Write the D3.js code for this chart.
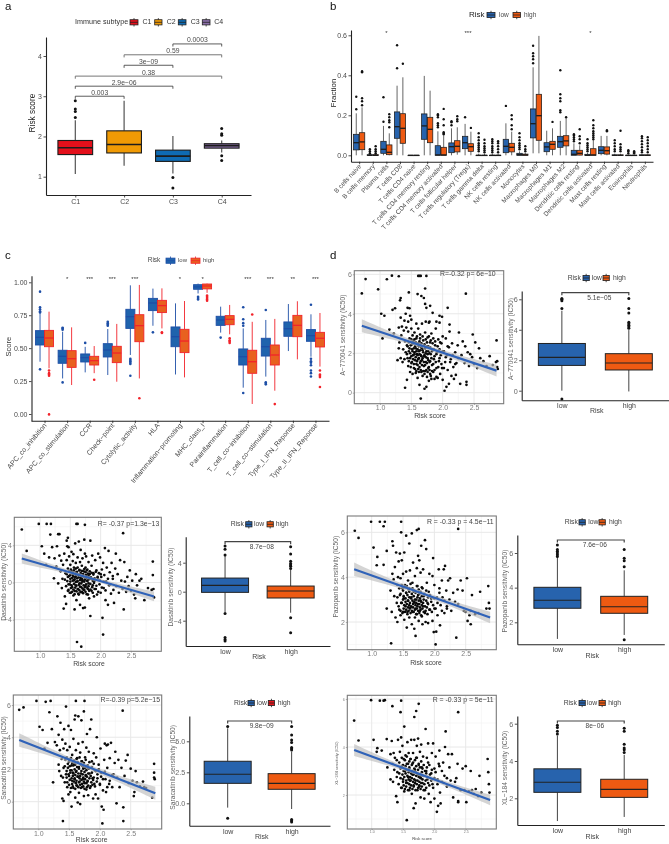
<!DOCTYPE html>
<html><head><meta charset="utf-8">
<script src="https://cdn.jsdelivr.net/npm/d3@7/dist/d3.min.js"></script>
<style>
html,body{margin:0;padding:0;background:#fff}
svg{display:block;filter:blur(0.35px)}
text{font-family:"Liberation Sans",Arial,sans-serif}
</style></head><body><svg id="fig" width="669" height="844"></svg>
<script>
// ---------- panel a ----------
const aCats=["C1","C2","C3","C4"];
const aBoxes=[[1.07,1.55,1.72,1.9,2.4,[2.47,2.62,2.68,2.89]],[1.27,1.59,1.8,2.14,2.89,[]],[1.08,1.38,1.51,1.66,2.01,[.98,.72]],[1.6,1.71,1.77,1.82,1.9,[2.2,2.07,2.03,1.52,1.4]]];
const aBrackets=[["C3","C4",4.3,"0.0003",0],["C2","C4",4.03,"0.59",1],["C2","C3",3.77,"3e−09",0],["C1","C4",3.5,"0.38",1],["C1","C3",3.25,"2.9e−06",0],["C1","C2",3.0,"0.003",0]];
// ---------- panel b ----------
const bCats=["B cells naive","B cells memory","Plasma cells","T cells CD8","T cells CD4 naive","T cells CD4 memory resting","T cells CD4 memory activated","T cells follicular helper","T cells regulatory (Tregs)","T cells gamma delta","NK cells resting","NK cells activated","Monocytes","Macrophages M0","Macrophages M1","Macrophages M2","Dendritic cells resting","Dendritic cells activated","Mast cells resting","Mast cells activated","Eosinophils","Neutrophils"];
const bLow=[[0,.027,.063,.105,.21,[.23,.293]],[0,0,0,.003,.007,[.01,.02,.03]],[0,.01,.03,.07,.147,[.168,.29]],[0,.085,.143,.217,.348,[.435,.55]],[0,0,0,0,0,[]],[0,.08,.147,.207,.397,[]],[0,0,.002,.048,.12,[.14,.15,.16,.19,.2,.205]],[0,.013,.043,.062,.135,[.15,.165,.17]],[0,.033,.063,.095,.157,[.19]],[0,0,0,0,.008,[.02,.03,.04,.05,.06,.075,.09,.11]],[0,0,0,0,.008,[.015,.025,.035,.045,.06,.07,.08]],[0,.013,.045,.08,.16,[.247]],[0,0,.003,.01,.02,[.03,.04,.05,.06,.075,.09,.11]],[.01,.087,.158,.232,.44,[.46,.48,.495,.51,.548]],[0,.018,.042,.063,.123,[]],[0,.04,.068,.095,.172,[.215,.225,.27,.285,.305,.425]],[0,0,.005,.025,.06,[.07,.08,.09,.1,.105]],[0,0,0,.005,.012,[.02,.03,.04,.05,.06,.08]],[0,.008,.025,.043,.097,[]],[0,0,0,.002,.008,[.02,.03,.045,.06,.075]],[0,0,0,0,.004,[.01,.02,.025]],[0,0,0,.002,.006,[.015,.025,.04,.055,.07,.085,.095]]];
const bHigh=[[0,.028,.067,.113,.24,[.25,.27,.285,.415,.42]],[0,0,0,.003,.007,[.01,.02,.03,.045]],[0,.003,.015,.052,.11,[.14,.165,.175,.19,.205]],[0,.06,.135,.208,.39,[.458]],[0,0,0,0,0,[]],[0,.063,.13,.19,.323,[]],[0,0,.002,.04,.1,[.105,.11,.115,.15,.18,.232]],[.003,.017,.045,.073,.14,[.17,.18,.195]],[0,.02,.043,.058,.118,[.137]],[0,0,0,0,.008,[.015,.025,.035,.045,.06,.078]],[0,0,0,0,.008,[.015,.03,.045,.06,.07]],[0,.017,.04,.06,.118,[.13,.15,.18,.2]],[0,0,.002,.006,.012,[.02,.03,.045]],[.01,.075,.198,.305,.597,[]],[0,.03,.055,.07,.135,[.167]],[0,.047,.072,.098,.185,[.19]],[0,.001,.01,.025,.05,[.06,.08,.095,.13]],[0,0,.002,.033,.075,[.08,.09,.1,.11,.12,.135,.15,.175]],[0,.006,.023,.042,.097,[.12,.125]],[0,0,0,.002,.008,[.02,.03,.04,.055,.123]],[0,0,0,0,.003,[.01,.015,.02]],[0,0,0,.002,.006,[.015,.03,.045,.06,.075,.09]]];
const bStars=[[2,"*"],[8,"***"],[17,"*"]];
// ---------- panel c ----------
const cCats=["APC_co_inhibition","APC_co_stimulation","CCR","Check−point","Cytolytic_activity","HLA","Inflammation−promoting","MHC_class_I","Parainflammation","T_cell_co−inhibition","T_cell_co−stimulation","Type_I_IFN_Reponse","Type_II_IFN_Reponse"];
const cLow=[[.397,.524,.582,.633,.76,[.339,.929,.77,.78,.795,.81]],[.27,.385,.438,.484,.625,[.24,.64,.65,.655]],[.316,.395,.428,.456,.51,[.54]],[.296,.433,.486,.534,.645,[.67,.68,.69,.7]],[.448,.65,.739,.795,.977,[.29,.38,.39,.4,.41,.42]],[.67,.785,.843,.878,.952,[.62]],[.3,.511,.587,.661,.84,[]],[.915,.947,.965,.982,.99,[.87,.88,.89]],[.618,.673,.714,.742,.815,[.58]],[.2,.372,.435,.494,.65,[.16,.67,.69,.72,.81]],[.284,.44,.511,.575,.714,[.225,.235,.24,.79]],[.478,.59,.648,.699,.835,[]],[.435,.552,.595,.641,.757,[.285,.31,.33,.37,.39,.4,.42,.83]]];
const cHigh=[[.347,.511,.577,.635,.777,[.29,.3,.31,.33,-.003]],[.22,.354,.42,.481,.658,[]],[.31,.372,.405,.438,.516,[.26]],[.245,.39,.463,.514,.684,[]],[.27,.549,.671,.754,.98,[.12]],[.65,.77,.823,.863,.954,[.615,.62]],[.278,.466,.554,.643,.858,[]],[.92,.95,.972,.987,.99,[.86,.87,.88,.89,.9]],[.605,.678,.719,.747,.828,[.54,.55,.56,.575]],[.076,.309,.397,.484,.7,[.755]],[.177,.372,.448,.524,.722,[.075]],[.415,.587,.673,.749,.856,[]],[.36,.509,.575,.62,.767,[.205,.28,.29,.3,.33]]];
const cStars=[[1,"*"],[2,"***"],[3,"***"],[4,"***"],[6,"*"],[7,"*"],[9,"***"],[10,"***"],[11,"**"],[12,"***"]];
// ---------- drug panels: box values [lower, q1, median, q3, upper, outliers] ----------
const riskCats=["low","high"];
const a770Box=[[0,1.66,2.19,3.1,5.25,[5.4,5.9,6,6.05,-.55]],[-.05,1.36,1.82,2.43,3.98,[4.1,4.2,4.3,4.4,4.5,5.1,5.4,6.05]]];
const dasaBox=[[-2.8,-.09,.87,1.88,5,[5.06,5.84,6.3,-3,-6.3,-6.6,-6.8]],[-2.9,-.87,.09,.78,3,[3.2,3.5,3.7,3.9,4.2,5.2,6.2,-3.6,-5.65]]];
const pazoBox=[[1.04,2.81,3.27,4.02,5.75,[5.8,5.9,6,6.1,6.2,6.46]],[1.27,2.52,2.9,3.5,5,[1,5.2,5.55,5.7,6.2]]];
const saraBox=[[-.35,1.61,2.34,3.39,6.05,[6.2,-1.2]],[-.46,1.13,1.61,2.39,4.17,[4.3,4.4,4.5,4.9,5.1,5.5,6.2,-1.3,-1.4,-1.5]]];
const xlBox=[[.78,2.32,2.86,3.58,5.36,[5.45,5.6,5.8,5.92]],[1,2.05,2.48,3.02,4.33,[4.45,4.6,4.7,4.9,5.6,5.75]]];
// ---------- scatter points [risk score, sensitivity] ----------
const a770Pts=[[.71,5.03],[.77,5.76],[.97,5.24],[1.11,5.75],[1.19,5.93],[1.3,5.9],[1.61,5.92],[1.63,5.92],[1.65,5.92],[1.74,5.92],[1.72,5.28],[1.46,5.08],[1.6,5],[1.66,4.9],[1.7,4.8],[2.37,5.02],[1.32,4.68],[1.33,4.8],[1.2,4.2],[1.24,4.28],[1.02,4],[1.07,3.9],[1.8,4.4],[1.72,4.5],[1.74,4.3],[1.44,4.3],[1.47,4.28],[1.95,3.9],[2.08,4.3],[1.84,4.05],[1.99,3.85],[1.33,3.8],[1.41,4],[1.48,3.9],[1.39,3.65],[1.45,3.6],[1.5,3.7],[1.58,3.5],[1.73,3.6],[1.79,3.6],[1.9,3.6],[1.95,3.55],[2.11,3.45],[1.15,3.2],[1.22,3],[1.04,2.75],[1.3,3.3],[1.28,1.65],[1.3,2.25],[1.31,2.55],[1.33,1.75],[1.34,2.9],[1.35,3.35],[1.36,1.55],[1.37,2.2],[1.38,3.15],[1.39,1.7],[1.4,2.6],[1.4,.25],[1.42,3.3],[1.43,.65],[1.43,1.95],[1.44,2.35],[1.45,1.35],[1.45,3.1],[1.46,2.1],[1.47,2.75],[1.48,1.05],[1.48,1.75],[1.49,2.4],[1.5,3.25],[1.5,1.5],[1.51,2.2],[1.52,.95],[1.52,2.9],[1.53,1.9],[1.54,2.5],[1.54,1.25],[1.55,3.05],[1.55,2.05],[1.56,1.65],[1.57,2.25],[1.57,1.0],[1.58,2.75],[1.58,1.45],[1.59,1.95],[1.6,2.45],[1.6,.75],[1.61,1.2],[1.61,3.25],[1.62,2.1],[1.62,1.75],[1.63,.4],[1.63,2.6],[1.64,1.5],[1.64,2.95],[1.65,1.9],[1.65,-.3],[1.66,2.3],[1.66,1.05],[1.67,1.65],[1.67,3.5],[1.68,2.15],[1.68,.85],[1.69,2.65],[1.7,1.35],[1.7,1.85],[1.71,.2],[1.71,2.45],[1.72,1.1],[1.72,3.05],[1.73,2.0],[1.73,1.55],[1.74,.3],[1.75,2.35],[1.75,.8],[1.76,1.75],[1.76,2.8],[1.77,1.25],[1.77,2.1],[1.78,.6],[1.78,3.55],[1.79,1.55],[1.8,2.55],[1.8,.95],[1.81,1.95],[1.82,3.0],[1.82,.7],[1.83,1.4],[1.84,2.2],[1.85,2.75],[1.85,1.05],[1.86,1.7],[1.87,.7],[1.88,2.4],[1.89,3.25],[1.9,1.25],[1.91,2.05],[1.92,.75],[1.93,2.7],[1.94,1.6],[1.95,2.2],[1.96,.95],[1.97,1.9],[1.98,2.5],[1.99,1.25],[2.0,2.85],[2.0,.65],[2.02,2.1],[2.03,.1],[2.04,1.55],[2.05,2.75],[2.06,.3],[2.07,1.9],[2.08,1.15],[2.1,.45],[2.1,2.3],[2.11,3.1],[2.13,1.7],[2.14,.85],[2.15,2.5],[2.17,1.3],[2.18,.7],[2.2,2.05],[2.21,.9],[2.22,1.5],[2.24,2.4],[2.25,1.75],[2.26,3.05],[2.28,.45],[2.3,1.9],[2.32,2.6],[2.35,1.5],[2.36,2.35],[2.38,.4],[2.38,.55],[2.4,2.05],[2.42,1.35],[2.44,1.95],[2.47,1.8],[2.48,2.95],[2.5,1.45],[2.52,2.55],[2.55,1.25],[2.58,2.25],[2.6,1.75],[2.65,1.6],[2.7,1.35],[2.75,1.85],[2.8,1.4],[2.85,1.55],[2.87,1.3],[2.87,1.6],[2.86,2.65],[2.88,1.2]];
const dasaPts=[[.7,5.7],[.78,3.4],[.98,6.3],[1.03,3.9],[1.07,3.1],[1.1,1.9],[1.11,6.3],[1.15,2.7],[1.18,6.3],[1.17,5.15],[1.2,3.8],[1.23,.45],[1.24,2.6],[1.28,3.9],[1.3,5.2],[1.32,5.2],[1.27,1.7],[1.3,-.1],[1.32,2.9],[1.34,1.2],[1.35,2.35],[1.36,-.6],[1.37,.4],[1.38,1.9],[1.39,-2.8],[1.4,3.1],[1.41,-1.5],[1.42,1],[1.43,-2.3],[1.44,4.5],[1.44,2.4],[1.45,3.9],[1.45,.15],[1.46,4.8],[1.46,1.5],[1.47,-.8],[1.47,3.8],[1.48,.7],[1.48,2.8],[1.49,-.2],[1.5,1.9],[1.5,.4],[1.51,-1.1],[1.52,1.2],[1.52,3.3],[1.53,-.5],[1.54,.8],[1.54,2.3],[1.55,-1.4],[1.55,3.05],[1.56,.25],[1.56,1.6],[1.57,-2.9],[1.57,-.9],[1.58,4.2],[1.58,.6],[1.59,2.1],[1.59,-.3],[1.6,1.1],[1.6,6.3],[1.62,6.3],[1.61,-6.4],[1.6,-1.9],[1.61,.1],[1.62,1.6],[1.62,2.7],[1.63,-.7],[1.63,.8],[1.64,4.4],[1.64,-1.3],[1.65,1.3],[1.65,-.1],[1.66,2.2],[1.66,-2.4],[1.67,.5],[1.67,3.5],[1.68,-6.9],[1.68,-.5],[1.69,1.8],[1.69,-1],[1.7,.25],[1.7,2.6],[1.71,-2.75],[1.72,-.8],[1.72,1.2],[1.73,4.6],[1.73,.1],[1.74,6.2],[1.74,3.1],[1.74,-2.7],[1.75,-.4],[1.75,1.6],[1.76,.7],[1.76,2.8],[1.77,-1.25],[1.78,.2],[1.78,1.4],[1.79,-.7],[1.8,2.2],[1.8,-.1],[1.81,-1.7],[1.82,.9],[1.83,-3.6],[1.83,4.5],[1.84,.4],[1.85,1.8],[1.85,-.9],[1.86,2.9],[1.87,-.3],[1.88,1],[1.89,-1.5],[1.9,.2],[1.91,2.4],[1.92,-.7],[1.93,1.3],[1.94,-1.3],[1.95,.5],[1.96,3.1],[1.97,1],[1.98,-.2],[1.99,2.7],[2,-1.1],[2.01,.6],[2.02,1.4],[2.03,-3.8],[2.04,-5.6],[2.04,2.1],[2.05,-.6],[2.06,.8],[2.07,3.7],[2.08,-1.9],[2.09,.1],[2.1,1.6],[2.12,-2.4],[2.13,3.4],[2.14,-.3],[2.15,1.1],[2.17,-1.2],[2.18,2.1],[2.2,.4],[2.21,-.8],[2.22,-2.2],[2.24,1.5],[2.25,3.1],[2.26,-.4],[2.28,.9],[2.3,-1.1],[2.32,2.4],[2.34,.2],[2.36,-.7],[2.37,5.3],[2.38,-2.9],[2.39,2.2],[2.4,.1],[2.42,-1],[2.44,.6],[2.46,-.4],[2.48,1.3],[2.5,-.9],[2.52,.2],[2.55,-1.3],[2.57,-1.7],[2.58,.9],[2.6,-.3],[2.64,.2],[2.67,.4],[2.72,-1.9],[2.78,-.6],[2.84,-.8],[2.86,.8],[2.86,2.25],[2.87,-.7],[2.88,-1.6]];
const pazoPts=[[.73,6.07],[.79,5.75],[.99,6.47],[1.03,5.32],[1.09,4.9],[1.08,4.53],[1.13,6.47],[1.19,4.55],[1.19,6.27],[1.21,6.47],[1.24,5.17],[1.24,2.6],[1.31,1.05],[1.33,5.6],[1.33,4.15],[1.34,5.4],[1.3,3.4],[1.32,2.45],[1.35,3.9],[1.36,3.15],[1.37,4.45],[1.38,2.2],[1.39,5.1],[1.4,2.85],[1.41,3.65],[1.41,2],[1.42,4],[1.43,4.7],[1.44,2.55],[1.45,3.2],[1.45,5.05],[1.46,3.95],[1.46,2.3],[1.47,6.47],[1.47,6],[1.48,4.75],[1.48,2.85],[1.49,3.5],[1.5,4.15],[1.5,2.45],[1.51,3.05],[1.52,5.1],[1.52,2.1],[1.53,3.65],[1.54,2.7],[1.55,5.85],[1.55,4.25],[1.55,3.3],[1.56,1.75],[1.57,2.45],[1.58,3.85],[1.58,2.95],[1.6,5.5],[1.6,2.2],[1.6,3.5],[1.61,4.3],[1.62,2.65],[1.63,3.1],[1.64,1.9],[1.64,5.95],[1.65,3.75],[1.65,2.45],[1.66,4.65],[1.67,2.85],[1.67,3.35],[1.68,1.7],[1.69,2.2],[1.69,4.05],[1.7,2.6],[1.7,1.38],[1.71,3],[1.72,6.1],[1.72,4.4],[1.72,2.35],[1.73,3.6],[1.74,4.95],[1.74,2.8],[1.75,6.15],[1.75,2.05],[1.76,3.25],[1.76,4.75],[1.77,2.5],[1.78,4.2],[1.78,2.95],[1.79,5.4],[1.8,2.25],[1.8,3.55],[1.81,1.9],[1.82,4.35],[1.82,2.7],[1.83,3.15],[1.85,5.65],[1.85,2.4],[1.86,2],[1.87,5.25],[1.88,3.75],[1.89,2.85],[1.9,1.95],[1.91,3.35],[1.92,4.15],[1.93,2.55],[1.95,3.05],[1.97,2.05],[1.97,4.05],[1.98,4.85],[1.99,1.55],[2,3.65],[2,2.6],[2.02,1],[2.03,1.57],[2.04,3.1],[2.05,2.3],[2.07,4.35],[2.08,3.5],[2.09,1.85],[2.1,2.75],[2.12,3.85],[2.13,3.1],[2.15,4.35],[2.16,2.4],[2.17,4.5],[2.19,3.4],[2.2,2.6],[2.22,3.85],[2.24,3],[2.25,3.95],[2.27,2.5],[2.3,3.3],[2.33,2.9],[2.35,1.3],[2.37,3.45],[2.38,6.15],[2.38,2.8],[2.42,3.85],[2.45,3.4],[2.47,2.5],[2.5,2.45],[2.52,3.95],[2.53,2.05],[2.56,2.3],[2.58,1.9],[2.58,2.5],[2.6,3.2],[2.65,2.35],[2.7,2.4],[2.73,3.35],[2.83,2.6],[2.86,3.6],[2.87,2.85],[2.88,2.6]];
const saraPts=[[.69,5.7],[.76,5.85],[.97,6.25],[1.02,4.65],[1.07,4.45],[1.1,3.3],[1.12,6.2],[1.15,3.65],[1.2,6.25],[1.18,5.55],[1.22,4.5],[1.24,1.2],[1.27,3.7],[1.3,3.5],[1.31,5.3],[1.33,2.3],[1.33,4.15],[1.34,1.9],[1.35,3.2],[1.36,4.9],[1.37,1.6],[1.38,2.65],[1.39,.2],[1.39,3.85],[1.4,-1.2],[1.4,1.5],[1.41,3.3],[1.41,.05],[1.42,4.5],[1.43,2.2],[1.44,3.6],[1.45,5.9],[1.45,1.7],[1.46,2.75],[1.47,1.2],[1.47,3.2],[1.48,2.1],[1.49,4.7],[1.49,.45],[1.5,1.6],[1.5,2.6],[1.51,3.4],[1.52,.6],[1.52,1.95],[1.53,4.45],[1.54,2.25],[1.54,-.3],[1.55,1.3],[1.55,2.9],[1.56,1.8],[1.57,3.9],[1.57,.85],[1.58,2.35],[1.59,5.1],[1.59,1.45],[1.6,5.35],[1.6,.25],[1.61,6.25],[1.61,3.2],[1.62,1.9],[1.62,1],[1.63,2.7],[1.64,-.05],[1.64,1.55],[1.65,3.6],[1.65,5.3],[1.66,2.15],[1.66,.55],[1.67,1.25],[1.68,3.05],[1.68,-.15],[1.69,1.75],[1.7,5.05],[1.7,2.5],[1.71,.9],[1.72,1.4],[1.72,3.7],[1.73,2.05],[1.74,5.6],[1.74,.35],[1.75,6.25],[1.75,1.15],[1.76,2.75],[1.77,1.6],[1.78,3.35],[1.78,.75],[1.79,4.2],[1.8,2.1],[1.8,1.25],[1.81,.4],[1.82,3.1],[1.83,1.75],[1.84,4.5],[1.85,.95],[1.86,5.1],[1.87,2.5],[1.88,1.45],[1.89,.2],[1.9,3],[1.91,1.1],[1.92,1.95],[1.93,.45],[1.94,2.75],[1.95,4],[1.96,1.45],[1.97,.2],[1.98,2.3],[2,1.05],[2.01,3.3],[2.02,1.8],[2.03,-.3],[2.04,-1.35],[2.05,.7],[2.06,-.5],[2.07,2.6],[2.08,3.6],[2.09,1.4],[2.1,.6],[2.11,3.5],[2.12,2.1],[2.13,3.55],[2.15,1.1],[2.16,2.7],[2.18,3.65],[2.2,.9],[2.22,1.7],[2.24,2.4],[2.25,3.1],[2.27,-.1],[2.28,1.5],[2.3,2.6],[2.32,.9],[2.35,2.1],[2.37,5.65],[2.38,-1.2],[2.38,-.35],[2.4,1.6],[2.42,2.55],[2.45,2.9],[2.47,1.15],[2.5,2.05],[2.53,1.3],[2.55,.35],[2.56,.6],[2.58,1.9],[2.6,1.2],[2.65,.95],[2.7,1.25],[2.72,.9],[2.75,.85],[2.85,.25],[2.88,2.35],[2.88,1.8],[2.88,1.5],[2.89,1.4]];
const xlPts=[[.72,5.1],[.79,4.27],[.99,5.95],[1.03,4.3],[1.09,3.95],[1.13,5.93],[1.08,3.8],[1.16,3.85],[1.19,5.93],[1.21,5.95],[1.24,4.33],[1.33,5.7],[1.32,4.25],[1.25,3.15],[1.3,3.7],[1.3,2.65],[1.33,3.3],[1.34,2.55],[1.35,3.75],[1.36,3.05],[1.37,3.55],[1.39,1.95],[1.4,2.75],[1.4,3.45],[1.41,1.7],[1.42,4.3],[1.44,2.9],[1.45,3.8],[1.46,5.45],[1.47,5.93],[1.47,4.4],[1.48,2.3],[1.48,3.2],[1.49,4.05],[1.5,2.65],[1.51,3.5],[1.52,4.85],[1.52,2.15],[1.53,3],[1.54,3.65],[1.55,2.5],[1.56,.95],[1.56,3.3],[1.57,4.2],[1.58,2.75],[1.59,3.75],[1.6,2.2],[1.6,3.1],[1.61,2.6],[1.62,3.5],[1.63,4.3],[1.64,2.05],[1.65,2.85],[1.65,3.3],[1.66,3.75],[1.67,1.45],[1.67,2.4],[1.68,5.25],[1.68,4.3],[1.69,3.05],[1.7,1.65],[1.7,2.6],[1.71,5.5],[1.71,3.55],[1.72,4.05],[1.73,2.2],[1.74,4.35],[1.74,2.85],[1.75,5.8],[1.75,3.25],[1.76,2.35],[1.77,3.8],[1.78,1.9],[1.78,2.75],[1.79,4.1],[1.8,3.15],[1.81,2.5],[1.82,3.6],[1.84,1.85],[1.85,2.2],[1.86,4.75],[1.87,3],[1.88,3.55],[1.89,2.65],[1.9,4.15],[1.91,2.05],[1.92,3.25],[1.94,1.7],[1.95,2.9],[1.96,3.75],[1.97,2.45],[1.98,4.15],[2,1.85],[2,3.1],[2.02,3.6],[2.04,1.3],[2.05,2.65],[2.06,1.55],[2.07,3.3],[2.08,3.85],[2.09,2.1],[2.1,1.65],[2.12,3],[2.14,3.35],[2.15,2.5],[2.17,4],[2.18,4.65],[2.2,2.7],[2.22,3.7],[2.24,3.15],[2.26,2.6],[2.28,3.7],[2.3,1.9],[2.33,2.55],[2.35,2.7],[2.37,3.3],[2.38,1.75],[2.38,1.7],[2.38,5.45],[2.42,2.2],[2.45,3.1],[2.48,2.2],[2.5,3.2],[2.51,1.7],[2.55,2.15],[2.58,3],[2.6,2.2],[2.63,2.05],[2.66,2.25],[2.7,1.95],[2.72,2.8],[2.75,2.1],[2.85,3.5],[2.86,2.95],[2.87,2.45],[2.88,2.1]];
// dense core of each cloud: shared risk scores, one sensitivity list per drug
const denseRisk=[1.41,1.43,1.44,1.46,1.46,1.47,1.48,1.49,1.5,1.5,1.51,1.51,1.52,1.53,1.53,1.54,1.54,1.55,1.55,1.56,1.56,1.57,1.57,1.58,1.58,1.59,1.59,1.6,1.6,1.6,1.61,1.61,1.62,1.62,1.63,1.63,1.64,1.64,1.65,1.65,1.66,1.66,1.67,1.67,1.68,1.68,1.69,1.69,1.7,1.7,1.71,1.71,1.72,1.72,1.73,1.73,1.74,1.74,1.75,1.75,1.76,1.76,1.77,1.77,1.78,1.78,1.79,1.79,1.8,1.8,1.81,1.81,1.82,1.83,1.83,1.84,1.85,1.86,1.87,1.87,1.88,1.89,1.9,1.9,1.92,1.93,1.95,1.96,1.98,2,2.02,2.05,2.08,2.12,2.16,2.2];
const a770Dense=[2.05,2.4,1.75,2.55,1.6,2.25,2,1.3,2.7,1.85,2.45,1.55,2.1,1.7,2.6,2.25,1.45,1.95,2.7,1.2,2.35,1.8,2.55,2.1,1.1,1.6,2.85,1.9,2.2,1.4,2.5,1.7,1.05,2.35,1.95,1.3,2.15,2.75,1.6,1.15,2.5,1.85,1.4,2.25,1.75,2.85,1.1,2.05,2.4,1.55,1.9,.95,2.25,1.4,2.7,1.8,1.15,2.1,1.5,2.55,1.95,1.05,2.35,1.65,2.85,1.3,2,1.15,2.3,1.6,2.65,.85,1.75,2.1,1.1,2.5,1.45,2.2,1.85,1.15,2.6,1.55,.8,1.95,2.35,1.3,1.75,2.55,1.45,2.1,1.25,1.8,2.35,1.55,1.9,1.45];
const dasaDense=[.3,-.4,.9,-.9,.6,-.2,1.2,-1.1,.1,.8,-.6,1.4,-.3,.5,-1,.2,1.05,-.75,.65,-.15,1.3,-1.25,.35,.95,-.55,.05,1.5,-.95,.75,-.35,.45,1.15,-.7,.15,-1.2,.85,-.25,.55,1.35,-.85,.25,-.45,1,-1.05,.7,-.1,.4,1.25,-.65,.1,-1.15,.9,-.3,.6,1.45,-.8,.3,-.5,1.1,-1,.8,-.2,.5,1.3,-.6,.15,-1.3,.95,-.4,.7,-.9,.35,1.2,-.15,-.75,.55,1.05,-.5,.2,-1.1,.85,-.05,.45,-.7,1.15,-.35,.6,-1,.25,.9,-.55,.1,-.85,.4,-.2,.7];
const pazoDense=[3.1,2.7,3.5,2.5,3.25,2.85,3.65,2.4,3,3.4,2.6,3.15,2.75,3.55,2.45,3.05,2.9,3.3,2.55,2.8,3.6,2.35,3.2,2.95,2.65,3.45,2.5,3.1,2.75,3.35,2.6,2.85,3.7,2.4,3.05,2.7,3.25,2.5,2.95,3.5,2.65,2.8,3.15,2.45,3.4,2.9,2.55,3,2.75,3.3,2.35,2.85,3.6,2.6,3.1,2.7,2.5,3.2,2.95,3.45,2.4,2.8,3.05,2.65,3.35,2.55,2.9,2.3,3.15,2.75,3.5,2.6,2.85,2.45,3,3.25,2.7,2.5,2.95,3.4,2.65,2.35,3.1,2.8,2.55,3.2,2.9,2.45,2.75,3.05,2.6,2.85,3.3,2.5,2.95,2.7];
const saraDense=[2.1,1.2,2.6,1.5,1.9,.9,2.35,1.7,1.05,2.5,1.35,2.2,1.8,.85,2.7,1.45,1.95,1.1,2.4,1.6,.95,2.25,1.75,1.25,2.55,1.4,2,.8,1.65,2.3,1.15,1.85,2.65,1.3,1,2.15,1.55,2.45,.9,1.75,1.2,2.05,1.45,2.75,1.05,1.6,2.3,.85,1.9,1.35,2.5,1.1,1.7,2.2,.95,1.5,2.4,1.25,1.85,.8,2.1,1.4,1.65,2.6,1.15,1.95,.9,1.55,2.25,1.3,1.75,1,2.05,1.45,2.45,.85,1.6,1.2,2.15,1.8,1.05,1.35,2.35,1.5,.95,1.9,1.25,1.7,2,1.1,1.55,1.4,1.85,.9,1.3,1.65];
const xlDense=[2.95,2.45,3.35,2.7,3.1,2.3,3.55,2.85,2.55,3.25,2.4,3,2.75,3.45,2.25,2.9,3.2,2.6,2.35,3.05,3.6,2.5,2.8,3.3,2.2,2.95,2.65,3.4,2.45,3.15,2.75,2.3,3.5,2.6,2.9,2.4,3.25,2.7,2.25,3,3.35,2.55,2.85,2.35,3.1,2.65,3.45,2.5,2.95,2.2,2.8,3.2,2.45,3.55,2.6,2.9,2.3,3.05,2.75,3.3,2.4,2.55,3.15,2.85,2.25,2.7,3.4,2.5,2.95,2.35,3.1,2.65,2.8,2.2,3.25,2.45,3,2.6,2.9,2.3,3.15,2.75,2.5,3.35,2.4,2.85,2.6,3.05,2.3,2.7,2.95,2.45,3.2,2.55,2.8,2.35];
// ---------- smooth fits: x ends, fitted y ends, confidence half-widths at bandX ----------
const bandX=[.7,1.2,1.7,2.3,2.9];
const a770Fit=[.71,3.39,2.86,1.12],a770Half=[.33,.17,.09,.15,.3];
const dasaFit=[.7,2.58,2.88,-1.5],dasaHalf=[.55,.28,.15,.25,.52];
const pazoFit=[.72,4.35,2.89,2.2],pazoHalf=[.3,.16,.08,.13,.26];
const saraFit=[.69,3.83,2.9,.52],saraHalf=[.42,.22,.11,.2,.4];
const xlFit=[.72,3.875,2.89,1.79],xlHalf=[.25,.13,.07,.11,.22];

// ---------- colours ----------
const aFill=["#e3101b","#f09a04","#0f6bb3","#8a6ea8"];
const blue="#2763ad", orange="#ee5a12";
const txt="#4a4a4a";
const svg=d3.select("#fig");

function anchored(v1,p1,v2,p2,a,b){const s=d3.scaleLinear().domain([v1,v2]).range([p1,p2]);return d3.scaleLinear().domain([s.invert(a),s.invert(b)]).range([a,b]);}
function label(x,y,t,o={}){const e=svg.append("text").attr("x",x).attr("y",y).text(t).attr("font-size",o.size||7).attr("fill",o.fill||txt).attr("text-anchor",o.anchor||"start").attr("dominant-baseline","middle");if(o.rot)e.attr("transform",`rotate(${o.rot} ${x} ${y})`);return e;}
function box(g,cx,w,y,d,o){
  const [lo,q1,med,q3,hi,out]=d;const st=o.stroke,wh=o.whisker||st;
  g.append("line").attr("x1",cx).attr("x2",cx).attr("y1",y(lo)).attr("y2",y(q1)).attr("stroke",wh).attr("stroke-width",o.lw);
  g.append("line").attr("x1",cx).attr("x2",cx).attr("y1",y(q3)).attr("y2",y(hi)).attr("stroke",wh).attr("stroke-width",o.lw);
  g.append("rect").attr("x",cx-w/2).attr("width",w).attr("y",y(q3)).attr("height",Math.max(y(q1)-y(q3),.4)).attr("fill",o.fill).attr("stroke",st).attr("stroke-width",o.lw);
  g.append("line").attr("x1",cx-w/2).attr("x2",cx+w/2).attr("y1",y(med)).attr("y2",y(med)).attr("stroke",o.medStroke||st).attr("stroke-width",o.medW||o.lw*1.6);
  g.selectAll(null).data(out).join("circle").attr("cx",cx).attr("cy",v=>y(v)).attr("r",o.r).attr("fill",o.ptFill||st);
}
function leftAxis(x,y,ticks,fmt,o={}){
  const g=svg.append("g").attr("transform",`translate(${x},0)`).call(d3.axisLeft(y).tickValues(ticks).tickFormat(fmt).tickSize(2.5).tickPadding(1.5).tickSizeOuter(0));
  g.selectAll("text").attr("font-size",o.size||7).attr("fill",o.fill||txt).style("font-family",'"Liberation Sans"');
  g.selectAll(".domain,.tick line").attr("stroke","#222").attr("stroke-width",.8);g.select(".domain").attr("stroke-width",1.1);return g;
}
function bottomAxis(y,x,o={}){
  const g=svg.append("g").attr("transform",`translate(0,${y})`).call(d3.axisBottom(x).tickSize(2.5).tickPadding(1.5).tickSizeOuter(0));
  g.selectAll("text").attr("font-size",o.size||7).attr("fill",o.fill||txt).style("font-family",'"Liberation Sans"');
  g.selectAll(".domain,.tick line").attr("stroke","#222").attr("stroke-width",.8);g.select(".domain").attr("stroke-width",1.1);
  if(o.rot)g.selectAll("text").attr("text-anchor","end").attr("dx",0).attr("dy",0).attr("transform",`translate(${o.dx||2},${o.dy||5}) rotate(${o.rot})`).attr("y",0);
  return g;
}
function key(x0,x1,cy,fill,stroke){
  const g=svg.append("g"),cx=(x0+x1)/2;
  g.append("line").attr("x1",cx).attr("x2",cx).attr("y1",cy-4.2).attr("y2",cy+4.2).attr("stroke",stroke).attr("stroke-width",.8);
  g.append("rect").attr("x",x0).attr("width",x1-x0).attr("y",cy-2.6).attr("height",5.2).attr("fill",fill).attr("stroke",stroke).attr("stroke-width",.8);
  g.append("line").attr("x1",x0).attr("x2",x1).attr("y1",cy).attr("y2",cy).attr("stroke",stroke).attr("stroke-width",.8);
}
function bracket(x1,x2,y,c,w){
  svg.append("path").attr("d",`M${x1},${y+2.6}V${y}H${x2}V${y+2.6}`).attr("fill","none").attr("stroke",c).attr("stroke-width",w);
}
// panel letters
[["a",5,7],["b",330,7],["c",5,256],["d",330,256]].forEach(d=>label(d[1],d[2],d[0],{size:11.5,fill:"#111"}));

// ---- panel a ----
{
  const y=anchored(1,176.7,4,56,195,37),x=d3.scalePoint().domain(aCats).range([46,251]).padding(.6);
  const g=svg.append("g");
  aCats.forEach((c,i)=>box(g,x(c),34.7,y,aBoxes[i],{stroke:"#1c1c1c",whisker:"#444",fill:aFill[i],lw:1.1,r:1.5,medW:1.7,ptFill:"#111"}));
  leftAxis(46,y,[1,2,3,4],d3.format("d"));bottomAxis(195,x);
  aBrackets.forEach(b=>{const grey=b[4];bracket(x(b[0]),x(b[1]),y(b[2]),grey?"#777":"#333",grey?1:.8);label((x(b[0])+x(b[1]))/2,y(b[2])-3.3,b[3],{anchor:"middle",size:6.8});});
  label(33.3,113,"Risk score",{rot:-90,anchor:"middle",size:8.3,fill:"#222"});
  label(75,22.3,"Immune subtype",{size:7.2,fill:"#333"});
  [[130,138,142.5],[154.7,162,166.7],[178.3,186,190.7],[202.3,210,214.3]].forEach((p,i)=>{key(p[0],p[1],22.3,aFill[i],"#222");label(p[2],22.3,aCats[i],{size:7,fill:"#333"});});
}
// ---- panel b ----
{
  const y=anchored(0,155.3,.6,35.3,161.7,30),x=d3.scalePoint().domain(bCats).range([351,653]).padding(.6);
  const g=svg.append("g"),opt=f=>({stroke:"#1c1c1c",whisker:"#333",fill:f,lw:.75,r:1.2,medW:1.3,ptFill:"#111"});
  bCats.forEach((c,i)=>{box(g,x(c)-2.9,5.4,y,bLow[i],opt(blue));box(g,x(c)+2.9,5.4,y,bHigh[i],opt(orange));});
  leftAxis(351,y,[0,.2,.4,.6],d3.format(".1f"));
  bottomAxis(161.7,x,{rot:-47,size:6.5,dx:2,dy:5});
  bStars.forEach(s=>label(x(bCats[s[0]]),33.3,s[1],{anchor:"middle",size:6,fill:"#333"}));
  label(334,93,"Fraction",{rot:-90,anchor:"middle",size:8,fill:"#222"});
  label(469,15,"Risk",{size:8,fill:"#222"});key(487,495,15,blue,"#222");label(499,15,"low",{size:6.5});key(513,520.5,15,orange,"#222");label(524,15,"high",{size:6.5});
}
// ---- panel c ----
{
  const y=anchored(0,414,1,282.3,420.7,275.7),x=d3.scalePoint().domain(cCats).range([31,329]).padding(.6);
  const g=svg.append("g"),lo={stroke:"#1d4ea6",fill:"#1f63ad",lw:.9,r:1.3,medW:1.3},hi={stroke:"#f2232a",fill:"#e8611f",lw:.9,r:1.3,medW:1.3};
  cCats.forEach((c,i)=>{box(g,x(c)-4.5,9,y,cLow[i],lo);box(g,x(c)+4.5,9,y,cHigh[i],hi);});
  leftAxis(31.5,y,[0,.25,.5,.75,1],d3.format(".2f"));
  bottomAxis(420.7,x,{rot:-50,size:7,dx:2,dy:5});
  cStars.forEach(s=>label(x(cCats[s[0]]),279.3,s[1],{anchor:"middle",size:6,fill:"#333"}));
  label(9.3,346.7,"Score",{rot:-90,anchor:"middle",size:7.5,fill:"#333"});
  label(147.7,260.7,"Risk",{size:6.5});key(166,175,260.7,"#1f63ad","#1d4ea6");label(178,260.7,"low",{size:6});key(191,200,260.7,"#e8611f","#f2232a");label(203,260.7,"high",{size:6});
}
// ---- drug panels ----
function scatter(o){
  const x=anchored(1,o.x10,2.5,o.x25,o.l,o.r),y=anchored(o.yv[0],o.yp[0],o.yv[1],o.yp[1],o.b,o.t);
  const g=svg.append("g");
  g.append("rect").attr("x",o.l).attr("y",o.t).attr("width",o.r-o.l).attr("height",o.b-o.t).attr("fill","#fff");
  const xt=[1,1.5,2,2.5],yt=o.ticks,dyt=yt[1]-yt[0];
  const minorY=d3.range(yt[0]-dyt/2,yt[yt.length-1]+dyt,dyt).filter(v=>y(v)>o.t&&y(v)<o.b);
  [.75,1.25,1.75,2.25,2.75].forEach(v=>g.append("line").attr("x1",x(v)).attr("x2",x(v)).attr("y1",o.t).attr("y2",o.b).attr("stroke","#f2f2f2").attr("stroke-width",.6));
  minorY.forEach(v=>g.append("line").attr("x1",o.l).attr("x2",o.r).attr("y1",y(v)).attr("y2",y(v)).attr("stroke","#f2f2f2").attr("stroke-width",.6));
  xt.forEach(v=>g.append("line").attr("x1",x(v)).attr("x2",x(v)).attr("y1",o.t).attr("y2",o.b).attr("stroke","#e8e8e8").attr("stroke-width",1));
  yt.forEach(v=>g.append("line").attr("x1",o.l).attr("x2",o.r).attr("y1",y(v)).attr("y2",y(v)).attr("stroke","#e8e8e8").attr("stroke-width",1));
  const pts=o.pts.concat(d3.zip(denseRisk,o.dense));
  g.selectAll(null).data(pts).join("circle").attr("cx",d=>x(d[0])).attr("cy",d=>y(d[1])).attr("r",1.35).attr("fill","#0a0a0a");
  const [x0,y0,x1,y1]=o.fit,fy=v=>y0+(y1-y0)*(v-x0)/(x1-x0);
  const bandPts=o.half.map((h,i)=>[d3.scaleLinear().domain([.7,2.9]).range([x0,x1])(bandX[i]),h]);
  g.append("path").attr("d",d3.area().x(d=>x(d[0])).y0(d=>y(fy(d[0])-d[1])).y1(d=>y(fy(d[0])+d[1])).curve(d3.curveBasis)(bandPts)).attr("fill","#bdbdbd").attr("opacity",.65);
  g.append("line").attr("x1",x(x0)).attr("y1",y(y0)).attr("x2",x(x1)).attr("y2",y(y1)).attr("stroke","#2f62b8").attr("stroke-width",2.2);
  g.append("rect").attr("x",o.l).attr("y",o.t).attr("width",o.r-o.l).attr("height",o.b-o.t).attr("fill","none").attr("stroke","#7a7a7a").attr("stroke-width",1.1);
  const fs=o.small?3.6:7,gray="#7d7d7d";
  const ax=svg.append("g").attr("transform",`translate(${o.l},0)`).call(d3.axisLeft(y).tickValues(yt).tickFormat(d3.format("d")).tickSize(1.5).tickPadding(1).tickSizeOuter(0));
  const bx=svg.append("g").attr("transform",`translate(0,${o.b})`).call(d3.axisBottom(x).tickValues(xt).tickFormat(d3.format(".1f")).tickSize(1.2).tickPadding(.4).tickSizeOuter(0));
  [ax,bx].forEach(a=>{a.select(".domain").remove();a.selectAll("line").attr("stroke",gray).attr("stroke-width",.6);a.selectAll("text").attr("font-size",fs).attr("fill",gray).style("font-family",'"Liberation Sans"');});
  label(o.ylab[0],o.ylab[1],o.name,{rot:-90,anchor:"middle",size:o.small?3.9:6.6,fill:"#666"});
  label(o.xlab[0],o.xlab[1],"Risk score",{anchor:"middle",size:o.small?4.2:6.8,fill:"#444"});
  label(o.r-o.rEnd,o.t+o.rDy,o.rtext,{anchor:"end",size:6.9,fill:"#444"});
}
function riskBox(o){
  const y=anchored(o.yv[0],o.yp[0],o.yv[1],o.yp[1],o.b,o.t),x=d3.scalePoint().domain(riskCats).range([o.l,o.r]).padding(.6);
  const g=svg.append("g"),w=47;
  [blue,orange].forEach((f,i)=>box(g,x(riskCats[i]),w,y,o.data[i],{stroke:"#222",whisker:"#444",fill:f,lw:1,r:1.5,medW:1.1,ptFill:"#111"}));
  const ax=leftAxis(o.l,y,o.ticks,o.fmt||d3.format("d"),{size:7.2,fill:"#666"});
  const bx=svg.append("g").attr("transform",`translate(0,${o.b})`).call(d3.axisBottom(x).tickSize(0).tickPadding(3).tickSizeOuter(0));
  bx.select(".domain").attr("stroke","#222").attr("stroke-width",1.1);bx.selectAll("text").attr("font-size",7).attr("fill","#444").style("font-family",'"Liberation Sans"');
  bracket(x("low"),x("high"),o.by,"#444",1.2);
  label((x("low")+x("high"))/2+o.pdx,o.by+5.2,o.p,{anchor:"middle",size:6.6,fill:"#444"});
  label(o.ylab[0],o.ylab[1],o.name,{rot:-90,anchor:"middle",size:6.7,fill:"#666"});
  label(o.xlab[0],o.xlab[1],"Risk",{anchor:"middle",size:7,fill:"#444"});
  const L=o.leg;
  label(L[0],L[1],"Risk",{size:6.8,fill:"#444"});key(L[2],L[2]+6.3,L[1],blue,"#222");label(L[3],L[1],"low",{size:6.8,fill:"#444"});key(L[4],L[4]+6.3,L[1],o.key2||orange,"#222");label(L[5],L[1],"high",{size:6.8,fill:"#444"});
}
scatter({l:354.3,r:503.7,t:270.7,b:403.7,x10:380,x25:474,yv:[0,6],yp:[392.7,274.3],ticks:[0,2,4,6],pts:a770Pts,dense:a770Dense,fit:a770Fit,half:a770Half,name:"A−770041 sensitivity (IC50)",ylab:[343,335],xlab:[430,416.5],rtext:"R=-0.32  p= 6e−10",rEnd:8,rDy:3.8});
riskBox({l:521.7,r:669,t:291,b:400.3,yv:[0,6],yp:[390.7,299.3],ticks:[0,2,4,6],data:a770Box,by:292.7,p:"5.1e−05",pdx:4,name:"A−770041 sensitivity (IC50)",ylab:[511.7,339],xlab:[596.7,411.5],leg:[567.7,278,583,591.7,603,613]});
scatter({l:14.3,r:161.3,t:517.3,b:651.3,x10:40,x25:131,yv:[-4,4],yp:[619.7,545.3],ticks:[-4,0,4],pts:dasaPts,dense:dasaDense,fit:dasaFit,half:dasaHalf,name:"Dasatinib sensitivity (IC50)",ylab:[4.5,581.7],xlab:[89,664.5],rtext:"R= -0.37   p=1.3e−13",rEnd:2,rDy:6.4});
riskBox({l:185.7,r:330,t:536.7,b:646,yv:[-4,4],yp:[620.7,562.7],ticks:[-4,0,4],fmt:d3.format("d"),data:dasaBox,by:541.7,p:"8.7e−08",pdx:4,name:"Dasatinib sensitivity (IC50)",ylab:[171.3,587],xlab:[259,657.5],leg:[230.7,524.3,245.7,254,267,275.7]});
scatter({l:347.3,r:496.3,t:516,b:649.7,x10:371.7,x25:465.7,yv:[2,6],yp:[622,532.3],ticks:[2,4,6],pts:pazoPts,dense:pazoDense,fit:pazoFit,half:pazoHalf,name:"Pazopanib sensitivity (IC50)",ylab:[336.7,576.7],xlab:[426,663],rtext:"R = -0.33   p = 4.5e−11",rEnd:2.6,rDy:6});
riskBox({l:517.3,r:664.3,t:535,b:644.3,yv:[2,6],yp:[622.3,553],ticks:[2,4,6],data:pazoBox,by:540,p:"7.6e−06",pdx:4,name:"Pazopanib sensitivity (IC50)",ylab:[505.3,591],xlab:[592.3,656],leg:[564.7,522.3,579,588.3,599,609]});
scatter({l:13.3,r:161.7,t:695,b:829,x10:38.3,x25:130.7,yv:[0,6],yp:[801.7,705],ticks:[0,2,4,6],pts:saraPts,dense:saraDense,fit:saraFit,half:saraHalf,name:"Saracatinib sensitivity (IC50)",ylab:[4.5,758],xlab:[91.7,840.5],rtext:"R=-0.39  p=5.2e−15",rEnd:1.7,rDy:5});
riskBox({l:189.3,r:330,t:716,b:825.7,yv:[0,5],yp:[803.3,741.3],ticks:[0,2.5,5],fmt:d3.format(".1f"),data:saraBox,by:721,p:"9.8e−09",pdx:2,name:"Saracatinib sensitivity (IC50)",ylab:[173,767.3],xlab:[261.7,837],leg:[234,703,248,256.7,268.3,277.7],key2:"#e8141c"});
scatter({l:347.3,r:496.3,t:695.3,b:829,x10:371.7,x25:465.7,yv:[2,4],yp:[795,747],ticks:[2,4,6],pts:xlPts,dense:xlDense,fit:xlFit,half:xlHalf,small:true,name:"XL−184 sensitivity (IC50)",ylab:[337.3,763],xlab:[422,838.7],rtext:"R = -0.33   p = 5e−11",rEnd:2.6,rDy:5});
riskBox({l:517.3,r:664.3,t:716,b:825,yv:[2,6],yp:[798.3,723.7],ticks:[2,4,6],data:xlBox,by:721,p:"8e−06",pdx:4,name:"XL−184 sensitivity (IC50)",ylab:[505.3,768],xlab:[592.3,837],leg:[563.7,703,579,587,599,608.3]});
</script></body></html>
